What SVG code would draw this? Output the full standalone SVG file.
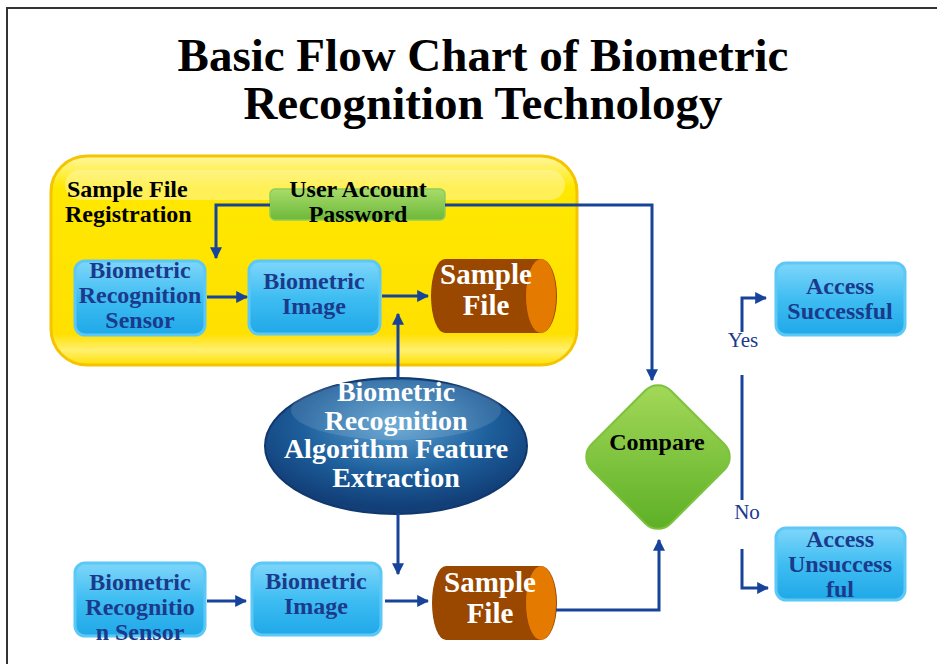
<svg xmlns="http://www.w3.org/2000/svg" width="937" height="664" viewBox="0 0 937 664">
<defs>
<linearGradient id="gBlue" x1="0" y1="0" x2="0" y2="1">
<stop offset="0" stop-color="#7fd6fa"/><stop offset="0.5" stop-color="#3fbdf2"/><stop offset="1" stop-color="#1fa8e8"/>
</linearGradient>
<linearGradient id="gGreenBox" x1="0" y1="0" x2="0" y2="1">
<stop offset="0" stop-color="#a8dc6a"/><stop offset="1" stop-color="#6cb83a"/>
</linearGradient>
<linearGradient id="gYellow" x1="0" y1="0" x2="0" y2="1">
<stop offset="0" stop-color="#fff7a0"/><stop offset="0.15" stop-color="#ffe800"/><stop offset="0.85" stop-color="#ffe000"/><stop offset="0.93" stop-color="#fff070"/><stop offset="1" stop-color="#ffe000"/>
</linearGradient>
<radialGradient id="gEll" cx="0.5" cy="0.35" r="0.6">
<stop offset="0" stop-color="#5aa0d0"/><stop offset="0.6" stop-color="#1d5f9c"/><stop offset="1" stop-color="#123f78"/>
</radialGradient>
<linearGradient id="gDia" x1="0" y1="0" x2="1" y2="1">
<stop offset="0" stop-color="#a6da5a"/><stop offset="1" stop-color="#5aae24"/>
</linearGradient>
<marker id="ah" viewBox="0 0 10 10" refX="9" refY="5" markerWidth="4" markerHeight="4" orient="auto">
<path d="M0,0 L10,5 L0,10 z" fill="#17449a"/>
</marker>
<style>
.t{font-family:"Liberation Serif",serif;font-weight:bold;}
.blue{fill:url(#gBlue);stroke:#5cc8f6;stroke-width:3;}
.bt{font-family:"Liberation Serif",serif;font-weight:bold;font-size:24px;fill:#1b3a8c;text-anchor:middle;}
.wt{font-family:"Liberation Serif",serif;font-weight:bold;fill:#ffffff;text-anchor:middle;}
.kt{font-family:"Liberation Serif",serif;font-weight:bold;font-size:24px;fill:#000;}
.c{fill:none;stroke:#17449a;stroke-width:3;}
.lbl{font-family:"Liberation Serif",serif;font-size:21px;fill:#1b3a8c;text-anchor:middle;}
</style>
</defs>
<rect width="937" height="664" fill="#ffffff"/>
<path d="M7,664 L7,8 L937,8" fill="none" stroke="#333" stroke-width="2"/>
<g id="title">
<text class="t" x="483" y="71" font-size="47" text-anchor="middle">Basic Flow Chart of Biometric</text>
<text class="t" x="483" y="119" font-size="47" text-anchor="middle">Recognition Technology</text>
</g>
<g id="registration">
<rect x="51" y="156" width="526" height="209" rx="36" fill="url(#gYellow)" stroke="#f5c400" stroke-width="3"/>
<rect x="65" y="170" width="500" height="30" rx="15" fill="#fff8b0" opacity="0.5"/>
<text class="kt" x="67" y="197">Sample File</text>
<text class="kt" x="65" y="222">Registration</text>
</g>
<g id="password">
<rect x="270" y="189" width="175" height="31" rx="5" fill="url(#gGreenBox)" stroke="#8fcc5a" stroke-width="1.5"/>
<text class="kt" x="358" y="197" text-anchor="middle">User Account</text>
<text class="kt" x="358" y="222" text-anchor="middle">Password</text>
</g>
<g id="sensor1">
<rect class="blue" x="75" y="261" width="130" height="74" rx="10"/>
<text class="bt" x="140" y="278">Biometric</text>
<text class="bt" x="140" y="303">Recognition</text>
<text class="bt" x="140" y="328">Sensor</text>
</g>
<g id="image1">
<rect class="blue" x="249" y="261" width="131" height="73" rx="10"/>
<text class="bt" x="314" y="289">Biometric</text>
<text class="bt" x="314" y="314">Image</text>
</g>
<g id="file1">
<path d="M445,259 L541,259 A16,37 0 0 1 541,333 L445,333 A14,37 0 0 1 445,259 z" fill="#9a4700"/>
<ellipse cx="541" cy="296" rx="15" ry="37" fill="#e57a00"/>
<text class="wt" x="486" y="284" font-size="29">Sample</text>
<text class="wt" x="486" y="315" font-size="29">File</text>
</g>
<g id="extraction">
<ellipse cx="396" cy="446" rx="131" ry="68" fill="url(#gEll)" stroke="#10386e" stroke-width="2"/>
<ellipse cx="396" cy="410" rx="105" ry="30" fill="#ffffff" opacity="0.12"/>
<text class="wt" x="396" y="401" font-size="28">Biometric</text>
<text class="wt" x="396" y="430" font-size="28">Recognition</text>
<text class="wt" x="396" y="458" font-size="28">Algorithm Feature</text>
<text class="wt" x="396" y="487" font-size="28">Extraction</text>
</g>
<g id="sensor2">
<rect class="blue" x="75" y="563" width="130" height="73" rx="10"/>
<text class="bt" x="140" y="590">Biometric</text>
<text class="bt" x="140" y="615">Recognitio</text>
<text class="bt" x="140" y="640">n Sensor</text>
</g>
<g id="image2">
<rect class="blue" x="252" y="563" width="129" height="72" rx="10"/>
<text class="bt" x="316" y="589">Biometric</text>
<text class="bt" x="316" y="614">Image</text>
</g>
<g id="file2">
<path d="M446,566 L541,566 A16,37 0 0 1 541,640 L446,640 A14,37 0 0 1 446,566 z" fill="#9a4700"/>
<ellipse cx="541" cy="603" rx="15" ry="37" fill="#e57a00"/>
<text class="wt" x="490" y="592" font-size="29">Sample</text>
<text class="wt" x="490" y="623" font-size="29">File</text>
</g>
<g id="compare">
<rect x="602" y="401" width="112" height="112" rx="18" transform="rotate(45 658 457)" fill="url(#gDia)" stroke="#7cc23e" stroke-width="2"/>
<text class="kt" x="657" y="450" text-anchor="middle">Compare</text>
</g>
<g id="success">
<rect class="blue" x="776" y="263" width="129" height="72" rx="10"/>
<text class="bt" x="840" y="294">Access</text>
<text class="bt" x="840" y="319">Successful</text>
</g>
<g id="fail">
<rect class="blue" x="776" y="528" width="129" height="72" rx="10"/>
<text class="bt" x="840" y="547">Access</text>
<text class="bt" x="840" y="572">Unsuccess</text>
<text class="bt" x="840" y="597">ful</text>
</g>
<g id="connectors">
<path class="c" d="M270,205 L216,205 L216,258" marker-end="url(#ah)"/>
<path class="c" d="M445,205 L652,205 L652,380" marker-end="url(#ah)"/>
<path class="c" d="M207,297 L247,297" marker-end="url(#ah)"/>
<path class="c" d="M382,296 L428,296" marker-end="url(#ah)"/>
<path class="c" d="M398,380 L398,314" marker-end="url(#ah)"/>
<path class="c" d="M398,513 L398,574" marker-end="url(#ah)"/>
<path class="c" d="M207,601 L246,601" marker-end="url(#ah)"/>
<path class="c" d="M385,601 L428,601" marker-end="url(#ah)"/>
<path class="c" d="M556,610 L659,610 L659,540" marker-end="url(#ah)"/>
<path class="c" d="M742,375 L742,500"/>
<path class="c" d="M742,332 L742,298 L766,298" marker-end="url(#ah)"/>
<path class="c" d="M742,549 L742,588 L768,588" marker-end="url(#ah)"/>
<text class="lbl" x="743" y="347">Yes</text>
<text class="lbl" x="747" y="519">No</text>
</g>
</svg>
